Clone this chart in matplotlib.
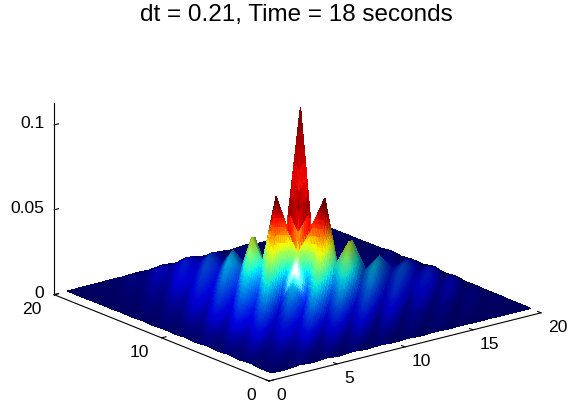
import numpy as np
import matplotlib
matplotlib.use('Agg')
import matplotlib.pyplot as plt
from mpl_toolkits.mplot3d import proj3d
from mpl_toolkits.mplot3d.art3d import Poly3DCollection

plt.rcParams['font.family'] = ['Liberation Sans', 'DejaVu Sans']

title = 'dt = 0.21, Time = 18 seconds'
grid = [1, 2, 3, 4, 5, 6, 7, 8, 9, 10, 11, 12, 13, 14, 15, 16, 17, 18, 19, 20]
x_ticks = [0, 5, 10, 15, 20]
y_ticks = [0, 10, 20]
z_ticks = [0, 0.05, 0.1]
z_labels = ['0', '0.05', '0.1']

# surface, one list per diagonal (x - y = k), mirrored about x = y
diag_0 = [.0003, .001, .002, .0035, .006, .009, .013, .018, .024, .031, .111, .03, .008, .002, .001, .0005, .0003, .0002, .0001, 0]
diag_1 = [.0002, .0005, .001, .0018, .003, .004, .005, .006, .014, .0425, .012, .002, .001, .0005, .0003, .0002, .0001, .0001, 0]
diag_2 = [.001, .002, .004, .007, .011, .016, .023, .033, .044, .058, .012, .004, .002, .001, .0005, .0003, .0002, .0001]
diag_3 = [.0003, .0007, .0014, .0025, .004, .006, .008, .012, .021, .014, .004, .0015, .0007, .0004, .0002, .0001, 0]
diag_4 = [.001, .002, .004, .007, .011, .016, .021, .028, .033, .029, .01, .003, .001, .0005, .0003, .0001]
diag_5 = [.0003, .0006, .0012, .002, .003, .0045, .0065, .009, .012, .01, .005, .0015, .0006, .0002, .0001]
diag_6 = [.001, .002, .004, .007, .01, .013, .016, .018, .018, .016, .009, .004, .002, .001]
diag_7 = [.0002, .0004, .0009, .0015, .0025, .0035, .005, .006, .007, .006, .003, .001, .0002]
diag_8 = [.0008, .0015, .003, .005, .007, .009, .0105, .0115, .0115, .0095, .005, .001]
diag_9 = [.0002, .0003, .0007, .0012, .002, .003, .004, .0045, .0045, .003, .0006]
diag_10 = [.0006, .0012, .002, .003, .0045, .006, .0075, .008, .0065, .002]
diag_11 = [.0001, .0002, .0005, .0008, .0012, .0018, .0025, .0028, .0006]
diag_12 = [.0005, .001, .0015, .0022, .003, .004, .0045, .0015]
diag_13 = [.0001, .0002, .0003, .0005, .0008, .0012, .0004]
diag_14 = [.0003, .0006, .001, .0014, .0018, .0007]
diag_15 = [.0001, .0002, .0003, .0004, .0003]
diag_16 = [.0002, .0004, .0006, .0004]
diag_17 = [.0001, .0002, .0002]
diag_18 = [.0001, .0002]
diag_19 = [.0001]

diags = [diag_1, diag_2, diag_3, diag_4, diag_5, diag_6, diag_7, diag_8, diag_9, diag_10,
         diag_11, diag_12, diag_13, diag_14, diag_15, diag_16, diag_17, diag_18, diag_19]
Z = np.diag(diag_0)
for k, d in enumerate(diags, start=1):
    Z = Z + np.diag(d, k) + np.diag(d, -k)
# Z[i, j]: i along x, j along y
X, Y = np.meshgrid(grid, grid, indexing='ij')

# lighting at the vertices, in box space so the steep spike shades right
SX, SZ = 17.3, 1790.0
n = len(grid)
verts = np.stack([X * SX, Y * SX, Z * SZ], axis=-1).astype(float)
tris = []
for i in range(n - 1):
    for j in range(n - 1):
        tris.append((i * n + j, (i + 1) * n + j, (i + 1) * n + j + 1))
        tris.append((i * n + j, (i + 1) * n + j + 1, i * n + j + 1))
tris = np.array(tris)
vv = verts.reshape(-1, 3)
fn = np.cross(vv[tris[:, 1]] - vv[tris[:, 0]], vv[tris[:, 2]] - vv[tris[:, 0]])
fn = fn / np.linalg.norm(fn, axis=1, keepdims=True)
vn = np.zeros_like(vv)
for c in range(3):
    np.add.at(vn, tris[:, c], fn)
vn = vn / np.linalg.norm(vn, axis=1, keepdims=True)

light = np.array([-0.9, -0.1, 0.25])
light = light / np.linalg.norm(light)
diffuse = np.clip(vn @ light, 0, None)
shade_v = 0.5 + 0.8 * diffuse
# the one white highlight, on the centre ridge just in front of the spike
spec_v = np.zeros(n * n)
spec_v[8 * n + 8] = 1.0


def z_to_rgb(z):
    t = np.interp(z, [0, 0.006, 0.012, 0.02, 0.045, 0.058, 0.07, 0.113],
                  [0, 0.13, 0.22, 0.36, 0.875, 0.98, 0.89, 0.99])
    return plt.cm.jet(t)[:, :3]


# split each triangle finely so colour runs smoothly across it (shading interp)
DIV = 7
bary = []
for a in range(DIV):
    for b in range(DIV - a):
        bary.append(((a, b), (a + 1, b), (a, b + 1)))
        if a + b < DIV - 1:
            bary.append(((a + 1, b), (a + 1, b + 1), (a, b + 1)))
bary = np.array(bary, dtype=float) / DIV
w = np.concatenate([bary, 1 - bary.sum(axis=2, keepdims=True)], axis=2)  # small tri, corner, 3 weights

p = vv[tris] / np.array([SX, SX, SZ])  # back to data units
polys = np.einsum('sck,tkd->tscd', w, p)
polys = polys.reshape(-1, 3, 3)
wc = w.mean(axis=1)
zc = np.einsum('sk,tk->ts', wc, Z.ravel()[tris]).ravel()
sc = np.einsum('sk,tk->ts', wc, shade_v[tris]).ravel()
spc = np.einsum('sk,tk->ts', wc, spec_v[tris]).ravel()
rgb = z_to_rgb(zc) * np.clip(sc, 0, 1)[:, None] + 1.2 * spc[:, None] ** 2
rgb = np.clip(rgb, 0, 1)

W, H = 587, 414
fig = plt.figure(figsize=(W / 100, H / 100), dpi=100)
ax = fig.add_axes([0, 0, 1, 1], projection='3d')
ax.set_proj_type('ortho')
ax.view_init(elev=18.5, azim=-128.3)
ax.set_xlim(0, 20)
ax.set_ylim(0, 20)
ax.set_zlim(0, 0.113)

coll = Poly3DCollection(polys, facecolors=rgb, edgecolors=rgb, linewidths=0.25, antialiaseds=False)
coll.set_zsort('average')
ax.add_collection3d(coll)
coll.set_clip_on(False)

for axis in (ax.xaxis, ax.yaxis, ax.zaxis):
    axis.set_pane_color((1, 1, 1, 0))
    axis.line.set_color('black')
    axis.line.set_linewidth(0.8)
    axis._axinfo['grid']['linewidth'] = 0
    axis._axinfo['tick']['inward_factor'] = 0.0
    axis._axinfo['tick']['outward_factor'] = 0.2
ax.grid(False)
ax.set_xticks(x_ticks)
ax.set_yticks(y_ticks)
ax.set_zticks(z_ticks)
ax.set_xticklabels([])
ax.set_yticklabels([])
ax.set_zticklabels([])
ax.tick_params(width=0.6, colors='black')


def px(x, y, z):
    xs, ys, _ = proj3d.proj_transform(x, y, z, ax.get_proj())
    return ax.transData.transform((xs, ys))


# fit the box onto the pixels of the reference
zoom = 1.0
ax.set_box_aspect((346, 346, 202), zoom=zoom)
fig.canvas.draw()
for _ in range(3):
    p0 = px(0, 0, 0)
    p1 = px(20, 0, 0)
    zoom = zoom * 272 / (p1[0] - p0[0])
    ax.set_box_aspect((346, 346, 202), zoom=zoom)
    fig.canvas.draw()
p0 = px(0, 0, 0)
dx = (269 - p0[0]) / W
dy = ((H - 382) - p0[1]) / H
ax.set_position([dx, dy, 1, 1])
fig.canvas.draw()


def tick_label(point, off_x, off_y, text, ha):
    q = px(*point)
    fig.text((q[0] + off_x) / W, (q[1] - off_y) / H, text, ha=ha, va='center', fontsize=12.6)


for t in x_ticks:
    tick_label((t, 0, 0), 7, 14, str(t), 'left')
for t in y_ticks:
    tick_label((0, t, 0), -13, 14, str(t), 'right')
for t, s in zip(z_ticks, z_labels):
    tick_label((0, 20, t), -10, -2, s, 'right')

fig.text(296 / W, 1 - 15 / H, title, ha='center', va='center', fontsize=17.5)
fig.savefig('out.png', dpi=100)
